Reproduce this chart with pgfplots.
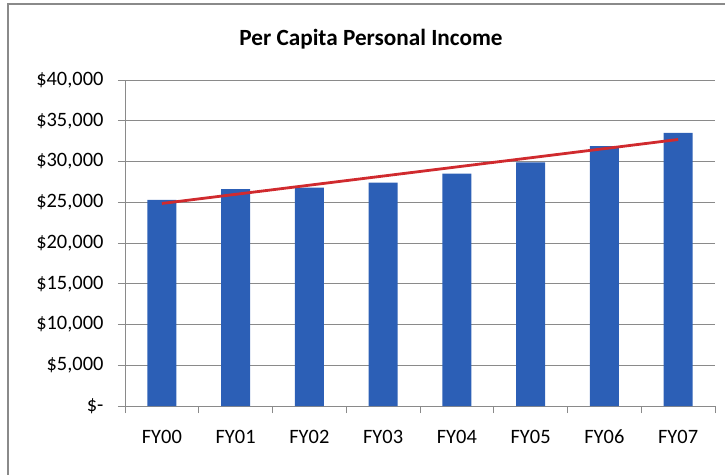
\documentclass[border=0pt]{standalone}
\usepackage{pgfplots}
\pgfplotsset{compat=1.18}
\usepackage{fontspec}
\setmainfont{Carlito}
\definecolor{barblue}{HTML}{2C5FB6}
\definecolor{trendred}{HTML}{D02A2E}
\definecolor{gridgray}{HTML}{8A8A8A}
\begin{document}
\begin{tikzpicture}
\path[use as bounding box] (0,0) rectangle (725bp,475bp);
\draw[gridgray, line width=1.2bp] (8bp,0) -- (8bp,471bp) -- (725bp,471bp);
\node[font=\fontsize{23.3}{25}\selectfont\bfseries] at (371bp,436bp) {Per Capita Personal Income};
\begin{axis}[
  at={(125bp,69bp)}, anchor=south west,
  scale only axis, width=590bp, height=326bp,
  xmin=-0.5, xmax=7.5, ymin=0, ymax=40000,
  scaled y ticks=false,
  xtick={0,...,7},
  xticklabels={FY00,FY01,FY02,FY03,FY04,FY05,FY06,FY07},
  minor xtick={-0.5,0.5,...,7.5},
  ytick={0,5000,...,40000},
  yticklabels={{\$-},{\$5,000},{\$10,000},{\$15,000},{\$20,000},{\$25,000},{\$30,000},{\$35,000},{\$40,000}},
  tick label style={font=\fontsize{20.5}{22}\selectfont},
  xticklabel style={yshift=-14bp, text height=13bp, text depth=2bp, anchor=north},
  yticklabel style={xshift=-11bp},
  ymajorgrids, grid style={gridgray, line width=0.9bp},
  axis x line*=bottom, axis y line*=left,
  axis line style={gridgray, line width=0.9bp},
  tick align=outside,
  major x tick style={draw=none},
  minor x tick style={gridgray, line width=0.9bp},
  minor tick length=7bp,
  major tick length=7bp,
  y tick style={gridgray, line width=0.9bp},
  clip=false,
]
\addplot[ybar, bar width=29bp, fill=barblue, draw=none]
  coordinates {(0,25300) (1,26600) (2,26800) (3,27400) (4,28500) (5,29900) (6,31900) (7,33500)};
\addplot[trendred, line width=2.8bp, mark=none]
  coordinates {(0,24850) (7,32700)};
\end{axis}
\end{tikzpicture}
\end{document}
